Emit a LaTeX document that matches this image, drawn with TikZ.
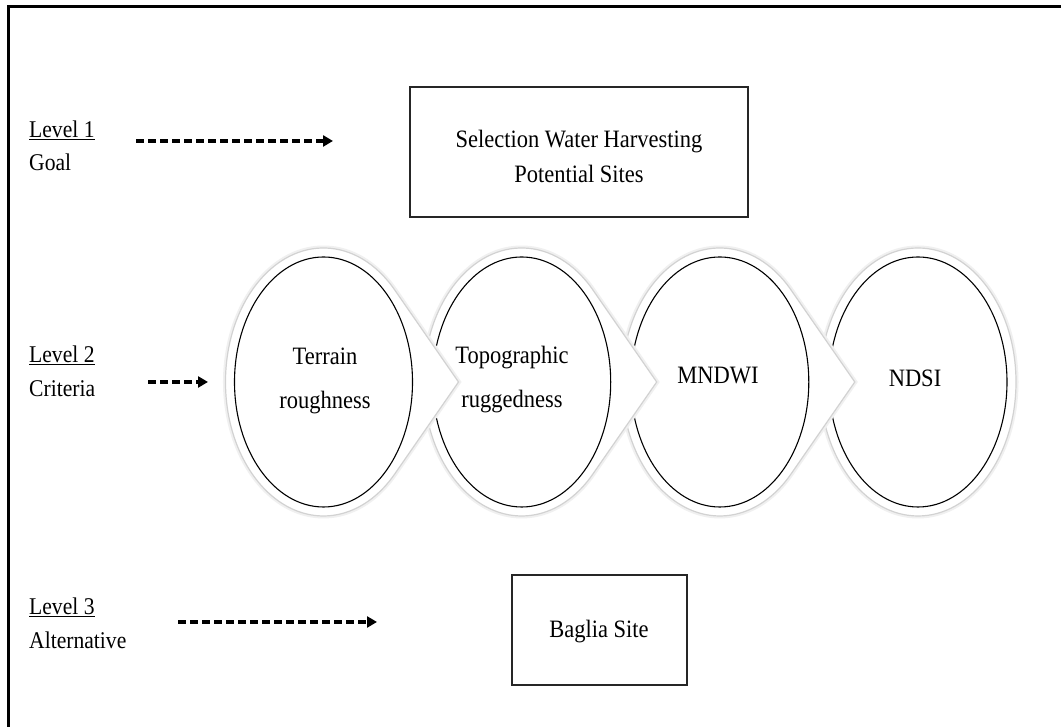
\documentclass[tikz,border=0pt]{standalone}
\usepackage{fontspec}
\setmainfont{Liberation Serif}[FakeStretch=0.9]
\usetikzlibrary{arrows.meta}
\begin{document}
\begin{tikzpicture}[x=1pt,y=1pt,
  lvl/.style={anchor=base west, inner sep=0pt, font=\fontsize{24}{28}\selectfont},
  dasharrow/.style={line width=3.4pt, dash pattern=on 8pt off 4pt, -{Triangle[length=10pt,width=11pt]}},
  levelbox/.style={draw=black!85, line width=1.6pt, inner sep=0pt},
  boxtext/.style={align=center, inner sep=0pt, font=\fontsize{25}{35}\selectfont},
  crit/.style={align=center, inner sep=0pt, font=\fontsize{25}{44}\selectfont},
  glow/.style={fill=white, draw=gray!35, line width=1.2pt, preaction={draw=gray!12, line width=5pt}},
  innerell/.style={draw=black, line width=1.1pt},
  frame/.style={line width=3pt, line cap=rect}
  ]
\useasboundingbox (0,0) rectangle (1061,727);
\fill[white] (0,0) rectangle (1061,727);
% outer frame (top and left edges visible)
\coordinate (fbl) at (8.5,0);
\coordinate (ftl) at (8.5,720.5);
\coordinate (ftr) at (1061,720.5);
\draw[frame] (fbl) -- (ftl) -- (ftr);

% level labels
\node[lvl] (l1) at (29,589) {\underline{Level 1}};
\node[lvl] (g1) at (29,556) {Goal};
\node[lvl] (l2) at (29,364) {\underline{Level 2}};
\node[lvl] (g2) at (29,330) {Criteria};
\node[lvl] (l3) at (29,112) {\underline{Level 3}};
\node[lvl] (g3) at (29,78) {Alternative};

% arrows
\coordinate (a1s) at (136,586); \coordinate (a1e) at (333,586);
\coordinate (a2s) at (148,345); \coordinate (a2e) at (208,345);
\coordinate (a3s) at (178,105); \coordinate (a3e) at (377,105);
\draw[dasharrow] (a1s) -- (a1e);
\draw[dasharrow] (a2s) -- (a2e);
\draw[dasharrow] (a3s) -- (a3e);

% goal box
\node[levelbox, minimum width=338pt, minimum height=130pt] (goal) at (579,575) {};
\node[boxtext] (goaltext) at (579,571) {Selection Water Harvesting\\Potential Sites};

% alternative box
\node[levelbox, minimum width=175pt, minimum height=110pt] (alt) at (599.5,97) {};
\node[boxtext] (alttext) at (599,95) {Baglia Site};

% criteria circles (drawn right to left so each chevron overlaps the next circle)
\coordinate (c4) at (918,345);
\draw[glow] (c4) ellipse [x radius=98, y radius=134];
\draw[innerell] (c4) ellipse [x radius=89, y radius=125];
\foreach \cx/\nm in {719.8/c3, 521.7/c2, 323.5/c1}{
  \coordinate (\nm) at (\cx,345);
  \coordinate (\nm tip) at (\cx+135,345);
  \coordinate (\nm t) at (\cx+71.1,437.2);
  \draw[glow] (\nm tip) -- (\nm t) arc[start angle=43.47, end angle=316.53, x radius=98, y radius=134] -- cycle;
  \draw[innerell] (\nm) ellipse [x radius=89, y radius=125];
}

\node[crit] (t1) at (325,346) {Terrain\\roughness};
\node[crit] (t2) at (512,347) {Topographic\\ruggedness};
\node[crit] (t3) at (718,351) {MNDWI};
\node[crit] (t4) at (915,349) {NDSI};
\end{tikzpicture}
\end{document}
